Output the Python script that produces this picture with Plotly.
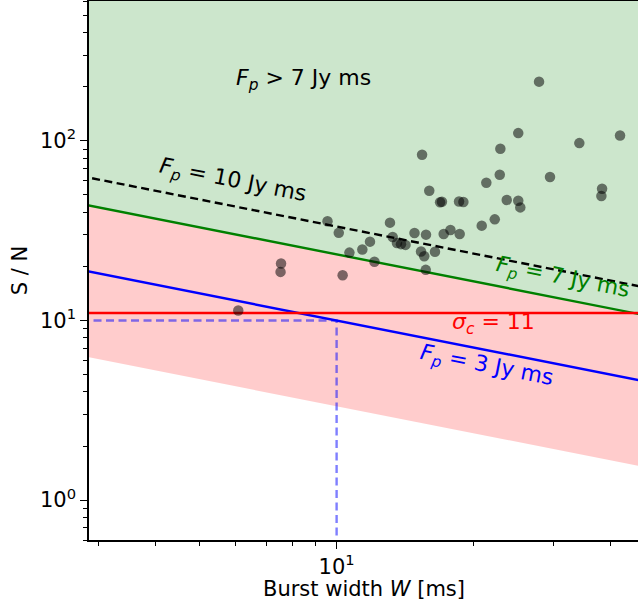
import numpy as np
import plotly.graph_objects as go

# ---- data ----
burst_width = [6.08, 7.55, 7.53, 9.55, 10.11, 10.31, 10.67, 11.39, 11.84, 12.11,
               13.10, 13.28, 13.57, 13.85, 14.17, 14.83, 15.33, 15.58, 15.41, 15.70,
               15.72, 15.98, 16.45, 16.88, 17.04, 17.19, 17.79, 18.58, 18.99, 18.64,
               20.84, 21.33, 22.26, 22.83, 22.90, 23.65, 25.07, 25.07, 25.33, 27.85,
               29.44, 34.15, 38.31, 38.18, 41.96]
snr = [11.36, 20.74, 18.64, 35.7, 30.74, 17.85, 23.87, 24.86, 27.47, 21.22,
       35.03, 29.17, 26.95, 26.6, 26.34, 30.7, 24.18, 22.76, 83.6, 19.13,
       30.04, 52.75, 24.12, 45.5, 45.82, 30.31, 31.9, 45.94, 45.65, 30.31,
       33.71, 58.43, 36.54, 64.75, 90.27, 46.84, 110.4, 46.42, 42.6, 213.5,
       62.86, 97.1, 54.12, 49.29, 107.0]

fluence_levels = {"low": 1.0, "f3": 3.0, "f7": 7.0, "f10": 10.0}
snr_threshold = 11.0          # sigma_c
ref_width = 10.0              # W at which F_p = 3 Jy ms gives S/N = 10
ref_snr = 10.0
# radiometer scaling: S/N = C * F / sqrt(W)
C = ref_snr * np.sqrt(ref_width) / fluence_levels["f3"]

x_range = [2.857, 45.95]
y_range = [0.6, 600.0]
W_line = np.array([2.0, 60.0])


def snr_curve(F):
    return C * F / np.sqrt(W_line)


FONT = "DejaVu Sans"
LW = 2.4
DASH = "8px,4.5px"
fig = go.Figure()

# green region above F=7
fig.add_trace(go.Scatter(x=W_line, y=[5000, 5000], mode="lines",
                         line=dict(width=0), showlegend=False, hoverinfo="skip"))
fig.add_trace(go.Scatter(x=W_line, y=snr_curve(fluence_levels["f7"]), mode="lines",
                         line=dict(width=0), fill="tonexty",
                         fillcolor="rgba(0,128,0,0.2)", showlegend=False))
# pink band between F=1 and F=7
fig.add_trace(go.Scatter(x=W_line, y=snr_curve(fluence_levels["low"]), mode="lines",
                         line=dict(width=0), showlegend=False))
fig.add_trace(go.Scatter(x=W_line, y=snr_curve(fluence_levels["f7"]), mode="lines",
                         line=dict(width=0), fill="tonexty",
                         fillcolor="rgba(255,0,0,0.2)", showlegend=False))

# guide lines
fig.add_trace(go.Scatter(x=[W_line[0], ref_width, ref_width], y=[ref_snr, ref_snr, 0.1],
                         mode="lines", line=dict(color="rgba(0,0,255,0.5)", width=LW, dash=DASH),
                         showlegend=False))
fig.add_trace(go.Scatter(x=W_line, y=snr_curve(fluence_levels["f10"]), mode="lines",
                         line=dict(color="black", width=LW, dash=DASH), showlegend=False))
fig.add_trace(go.Scatter(x=W_line, y=snr_curve(fluence_levels["f7"]), mode="lines",
                         line=dict(color="green", width=LW), showlegend=False))
fig.add_trace(go.Scatter(x=W_line, y=snr_curve(fluence_levels["f3"]), mode="lines",
                         line=dict(color="blue", width=LW), showlegend=False))
fig.add_trace(go.Scatter(x=W_line, y=[snr_threshold, snr_threshold], mode="lines",
                         line=dict(color="red", width=LW), showlegend=False))

# bursts
fig.add_trace(go.Scatter(x=burst_width, y=snr, mode="markers",
                         marker=dict(size=10.5, color="rgba(0,0,0,0.52)", line=dict(width=0)),
                         showlegend=False))

ang = 11.2
ann = [
    ("<i>F</i><sub><i>p</i></sub> > 7 Jy ms", 8.47, 220.8, "black", 0),
    ("<i>F</i><sub><i>p</i></sub> = 10 Jy ms", 5.92, 59.2, "black", ang),
    ("<i>F</i><sub><i>p</i></sub> = 7 Jy ms", 31.3, 17.1, "green", ang),
    ("<i>σ</i><sub><i>c</i></sub> = 11", 22.1, 9.62, "red", 0),
    ("<i>F</i><sub><i>p</i></sub> = 3 Jy ms", 21.3, 5.55, "blue", ang),
]
for txt, ax_, ay_, col, ta in ann:
    fig.add_annotation(x=np.log10(ax_), y=np.log10(ay_), text=txt, showarrow=False,
                       textangle=ta, font=dict(family=FONT, size=22, color=col),
                       xanchor="center", yanchor="middle")

# x-axis title placed as paper-referenced text
fig.add_annotation(xref="paper", yref="paper", x=0.5, y=-0.091, text="Burst width <i>W</i> [ms]",
                   showarrow=False, xanchor="center", yanchor="middle",
                   font=dict(family=FONT, size=21, color="black"))

x_minor = [3, 4, 5, 6, 7, 8, 9, 20, 30, 40]
y_minor = [0.6, 0.7, 0.8, 0.9] + [k for k in range(2, 10)] + [10 * k for k in range(2, 10)] + [100 * k for k in range(2, 7)]

fig.update_layout(
    width=638, height=608,
    margin=dict(l=89, r=0, t=1, b=68, autoexpand=False),
    paper_bgcolor="white", plot_bgcolor="white",
    font=dict(family=FONT, size=20, color="black"),
    xaxis=dict(type="log", range=[np.log10(x_range[0]), np.log10(x_range[1])], automargin=False,
               showgrid=False, zeroline=False, showline=True, linecolor="black", linewidth=1.5,
               mirror=True, ticks="outside", ticklen=7, tickwidth=1.2, tickcolor="black",
               tickvals=[10], ticktext=["10<sup>1</sup>"],
               minor=dict(tickvals=x_minor, ticks="outside", ticklen=4, tickwidth=1, tickcolor="black"),
               tickfont=dict(size=21)),
    yaxis=dict(type="log", range=[np.log10(y_range[0]), np.log10(y_range[1])], automargin=False,
               showgrid=False, zeroline=False, showline=True, linecolor="black", linewidth=1.5,
               mirror=False, ticks="outside", ticklen=7, tickwidth=1.2, tickcolor="black",
               tickvals=[1, 10, 100], ticktext=["10<sup>0</sup>", "10<sup>1</sup>", "10<sup>2</sup>"],
               minor=dict(tickvals=y_minor, ticks="outside", ticklen=4, tickwidth=1, tickcolor="black"),
               title=dict(text="S / N", font=dict(size=21), standoff=7),
               tickfont=dict(size=21)),
)

fig.write_html("out.html", config={"displayModeBar": False},
               post_script="document.body.style.margin='0';")
